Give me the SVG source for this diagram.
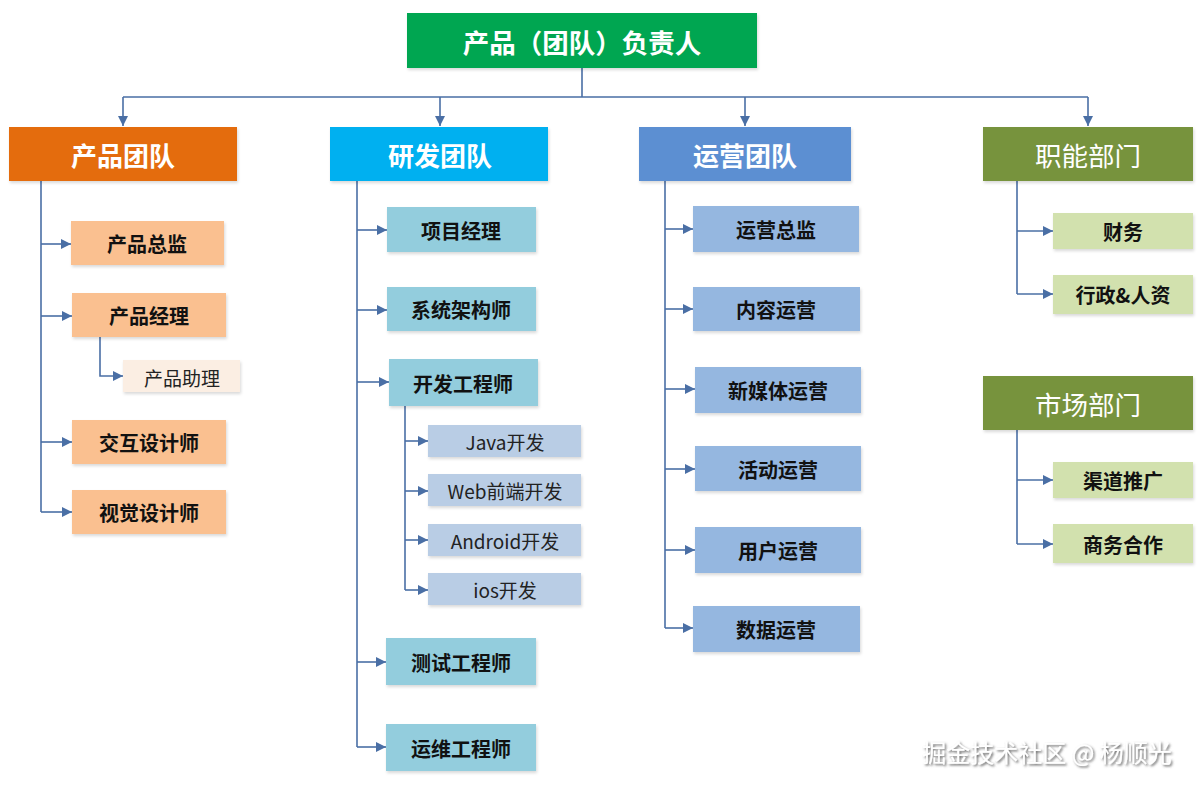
<svg xmlns="http://www.w3.org/2000/svg" width="1200" height="789" viewBox="0 0 1200 789">
<defs>
<marker id="arr" markerWidth="10" markerHeight="10" refX="10" refY="5" orient="auto" markerUnits="userSpaceOnUse"><path d="M0,0 L10,5 L0,10 Z" fill="#4A6FA5"/></marker>
<filter id="sh" x="-5%" y="-5%" width="110%" height="120%"><feDropShadow dx="1" dy="2" stdDeviation="1.5" flood-color="#000" flood-opacity="0.15"/></filter>
<filter id="wm" x="-5%" y="-20%" width="110%" height="150%"><feDropShadow dx="1.5" dy="1.5" stdDeviation="0.8" flood-color="#555" flood-opacity="0.9"/></filter>
</defs>
<style>
text{font-family:"Noto Sans CJK SC","Noto Sans",sans-serif;text-anchor:middle;dominant-baseline:central}
.c{fill:none;stroke:#4A6FA5;stroke-width:1.6}
.h{fill:#fff;font-size:26px;font-weight:bold}
.hn{fill:#fff;font-size:26.5px}
.t{fill:#111;font-size:20px;font-weight:bold}
.s{fill:#222;font-size:19px}
.or{fill:#FAC090}
.bl{fill:#93CDDD}
.bs{fill:#B9CDE5}
.ob{fill:#95B7E0}
.gr{fill:#D2E1AE}
rect{filter:url(#sh)}
</style>
<rect width="1200" height="789" fill="#fff" style="filter:none"/>
<g id="connectors">
<path class="c" d="M582,68 V97 M123,97 H1088"/>
<path class="c" marker-end="url(#arr)" d="M123,97 V126"/>
<path class="c" marker-end="url(#arr)" d="M440,97 V126"/>
<path class="c" marker-end="url(#arr)" d="M745,97 V126"/>
<path class="c" marker-end="url(#arr)" d="M1088,97 V126"/>
<path class="c" d="M41,181 V512"/>
<path class="c" marker-end="url(#arr)" d="M41,244 H71"/>
<path class="c" marker-end="url(#arr)" d="M41,316 H72"/>
<path class="c" marker-end="url(#arr)" d="M100,337 V376 H123"/>
<path class="c" marker-end="url(#arr)" d="M41,442 H72"/>
<path class="c" marker-end="url(#arr)" d="M41,512 H72"/>
<path class="c" d="M357,181 V747"/>
<path class="c" marker-end="url(#arr)" d="M357,230 H387"/>
<path class="c" marker-end="url(#arr)" d="M357,310 H387"/>
<path class="c" marker-end="url(#arr)" d="M357,382 H389"/>
<path class="c" d="M405,406 V590"/>
<path class="c" marker-end="url(#arr)" d="M405,441 H428"/>
<path class="c" marker-end="url(#arr)" d="M405,491 H428"/>
<path class="c" marker-end="url(#arr)" d="M405,540 H428"/>
<path class="c" marker-end="url(#arr)" d="M405,590 H428"/>
<path class="c" marker-end="url(#arr)" d="M357,662 H386"/>
<path class="c" marker-end="url(#arr)" d="M357,747 H386"/>
<path class="c" d="M665,181 V628"/>
<path class="c" marker-end="url(#arr)" d="M665,229 H693"/>
<path class="c" marker-end="url(#arr)" d="M665,309 H693"/>
<path class="c" marker-end="url(#arr)" d="M665,389 H695"/>
<path class="c" marker-end="url(#arr)" d="M665,469 H695"/>
<path class="c" marker-end="url(#arr)" d="M665,550 H695"/>
<path class="c" marker-end="url(#arr)" d="M665,628 H693"/>
<path class="c" d="M1017,181 V294"/>
<path class="c" marker-end="url(#arr)" d="M1017,231 H1053"/>
<path class="c" marker-end="url(#arr)" d="M1017,294 H1053"/>
<path class="c" d="M1017,430 V544"/>
<path class="c" marker-end="url(#arr)" d="M1017,480 H1053"/>
<path class="c" marker-end="url(#arr)" d="M1017,544 H1053"/>
</g>
<g id="root"><rect x="407" y="13" width="350" height="55" fill="#00A651"/><text class="h" x="582" y="41" style="font-size:26.5px">产品（团队）负责人</text></g>
<g id="team-product"><rect x="9" y="127" width="228" height="54" fill="#E46C0A"/><text class="h" x="123" y="154">产品团队</text></g>
<g id="team-rd"><rect x="330" y="127" width="218" height="54" fill="#00B0F0"/><text class="h" x="440" y="154">研发团队</text></g>
<g id="team-ops"><rect x="639" y="127" width="212" height="54" fill="#5B8FD2"/><text class="h" x="745" y="154">运营团队</text></g>
<g id="dept-func"><rect x="983" y="127" width="210" height="54" fill="#77933C"/><text class="hn" x="1088" y="154">职能部门</text></g>
<g id="dept-market"><rect x="983" y="376" width="210" height="54" fill="#77933C"/><text class="hn" x="1088" y="403">市场部门</text></g>
<g id="p1"><rect class="or" x="71" y="221" width="153" height="44"/><text class="t" x="147" y="243">产品总监</text></g>
<g id="p2"><rect class="or" x="72" y="293" width="154" height="44"/><text class="t" x="149" y="315">产品经理</text></g>
<g id="p2a"><rect x="123" y="360" width="117" height="32" fill="#FBEEE3"/><text class="s" x="182" y="377">产品助理</text></g>
<g id="p3"><rect class="or" x="72" y="420" width="154" height="44"/><text class="t" x="149" y="442">交互设计师</text></g>
<g id="p4"><rect class="or" x="72" y="490" width="154" height="44"/><text class="t" x="149" y="512">视觉设计师</text></g>
<g id="r1"><rect class="bl" x="387" y="207" width="149" height="45"/><text class="t" x="461" y="230">项目经理</text></g>
<g id="r2"><rect class="bl" x="387" y="287" width="149" height="44"/><text class="t" x="461" y="309">系统架构师</text></g>
<g id="r3"><rect class="bl" x="389" y="359" width="149" height="47"/><text class="t" x="463" y="383">开发工程师</text></g>
<g id="r3a"><rect class="bs" x="428" y="425" width="153" height="32"/><text class="s" x="505" y="441">Java开发</text></g>
<g id="r3b"><rect class="bs" x="428" y="474" width="153" height="32"/><text class="s" x="505" y="490">Web前端开发</text></g>
<g id="r3c"><rect class="bs" x="428" y="524" width="153" height="32"/><text class="s" x="505" y="540">Android开发</text></g>
<g id="r3d"><rect class="bs" x="428" y="573" width="153" height="32"/><text class="s" x="505" y="589">ios开发</text></g>
<g id="r4"><rect class="bl" x="386" y="638" width="150" height="47"/><text class="t" x="461" y="662">测试工程师</text></g>
<g id="r5"><rect class="bl" x="386" y="724" width="150" height="47"/><text class="t" x="461" y="748">运维工程师</text></g>
<g id="o1"><rect class="ob" x="693" y="206" width="166" height="46"/><text class="t" x="776" y="229">运营总监</text></g>
<g id="o2"><rect class="ob" x="693" y="287" width="167" height="44"/><text class="t" x="776" y="309">内容运营</text></g>
<g id="o3"><rect class="ob" x="695" y="367" width="166" height="46"/><text class="t" x="778" y="390">新媒体运营</text></g>
<g id="o4"><rect class="ob" x="695" y="446" width="166" height="45"/><text class="t" x="778" y="469">活动运营</text></g>
<g id="o5"><rect class="ob" x="695" y="527" width="166" height="46"/><text class="t" x="778" y="550">用户运营</text></g>
<g id="o6"><rect class="ob" x="693" y="606" width="167" height="46"/><text class="t" x="776" y="629">数据运营</text></g>
<g id="f1"><rect class="gr" x="1053" y="213" width="140" height="36"/><text class="t" x="1123" y="231">财务</text></g>
<g id="f2"><rect class="gr" x="1053" y="275" width="140" height="39"/><text class="t" x="1123" y="294">行政&amp;人资</text></g>
<g id="m1"><rect class="gr" x="1053" y="462" width="140" height="36"/><text class="t" x="1123" y="480">渠道推广</text></g>
<g id="m2"><rect class="gr" x="1053" y="524" width="140" height="39"/><text class="t" x="1123" y="544">商务合作</text></g>
<text x="1047" y="751" style="font-size:24px;fill:#fff;filter:url(#wm)">掘金技术社区 @ 杨顺光</text>
</svg>
